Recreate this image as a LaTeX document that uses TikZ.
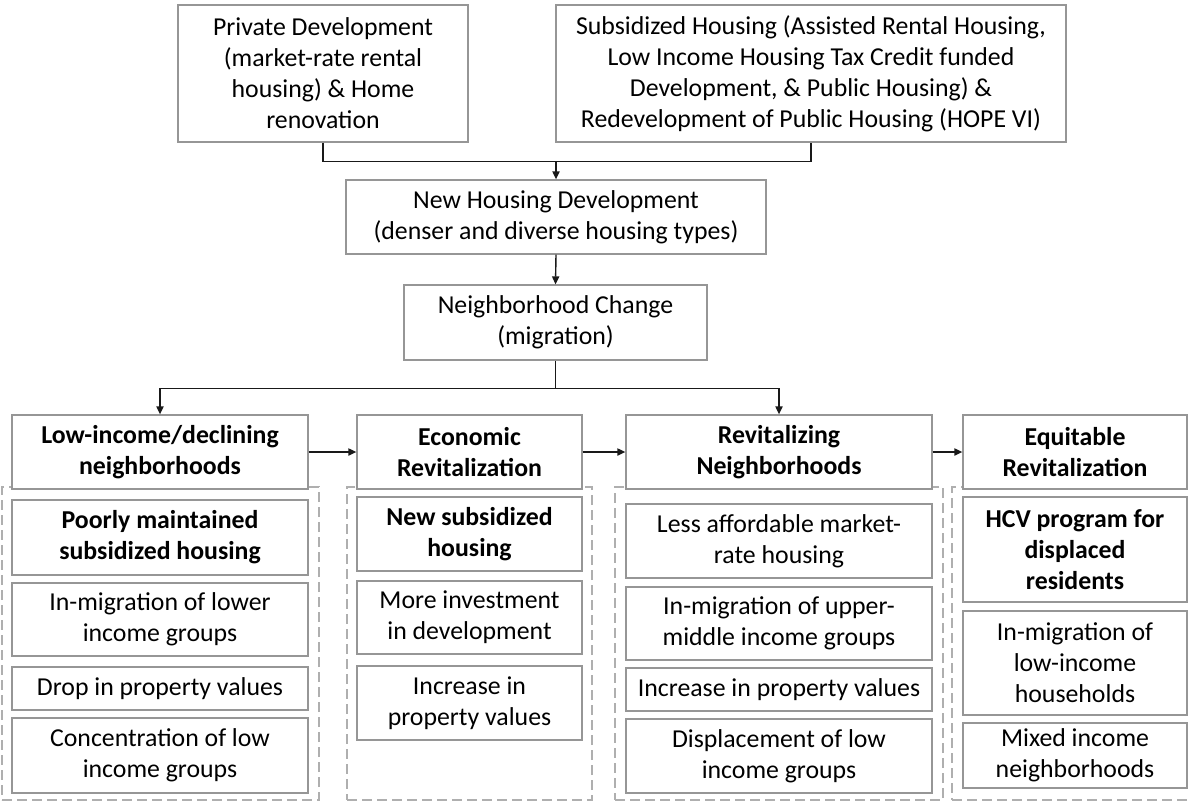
\documentclass[tikz,border=0pt]{standalone}
\usepackage{fontspec}
\setmainfont{Carlito}
\usetikzlibrary{arrows.meta}
\definecolor{boxline}{RGB}{150,150,150}
\definecolor{dashline}{RGB}{175,175,175}
\definecolor{conn}{RGB}{25,25,25}
\tikzset{
  textbox/.style={draw=boxline, line width=0.65pt, fill=white, inner sep=0pt, align=center,
    font=\fontsize{12.9}{15.5}\selectfont},
  headbox/.style={textbox, font=\fontsize{12.9}{15.5}\selectfont\bfseries},
  boldbox/.style={headbox},
  dashbox/.style={draw=dashline, line width=1pt, dash pattern=on 5pt off 2.5pt, inner sep=0pt},
  link/.style={draw=conn, line width=0.7pt},
  arr/.style={link, -{Triangle[length=4pt,width=3.6pt]}}
}
\newcommand\bx[7][]{\node[textbox,#1,minimum width={(#5-#3)*0.5pt},minimum height={(#6-#4)*0.5pt}] (#2) at ({(#3+#5)/2},{(#4+#6)/2}) {#7};}
\begin{document}
\begin{tikzpicture}[x=0.5pt,y=-0.5pt]
\useasboundingbox (0,0) rectangle (1188,803);
\clip (0,0) rectangle (1188,803);
% top
\bx{P}{178}{5}{468}{142}{Private Development\\(market-rate rental\\housing) \& Home\\renovation}
\bx{S}{556}{5}{1066}{142}{Subsidized Housing (Assisted Rental Housing,\\Low Income Housing Tax Credit funded\\Development, \& Public Housing) \&\\Redevelopment of Public Housing (HOPE VI)}
\bx{NH}{346}{180}{766}{254}{New Housing Development\\(denser and diverse housing types)}
\bx{NC}{404}{285}{707}{360}{Neighborhood Change\\(migration)}
% dashed columns
\bx[dashbox,fill=none,draw=dashline]{D1}{2}{487}{319}{800}{}
\bx[dashbox,fill=none,draw=dashline]{D2}{347}{487}{592}{800}{}
\bx[dashbox,fill=none,draw=dashline]{D3}{615}{487}{943}{800}{}
\bx[dashbox,fill=none,draw=dashline]{D4}{952}{487}{1210}{800}{}
% headers
\bx[headbox]{H1}{12}{415}{308}{489}{Low-income/declining\\neighborhoods}
\bx[headbox]{H2}{357}{415}{582}{489}{Economic\\Revitalization}
\bx[headbox]{H3}{626}{415}{932}{489}{Revitalizing\\Neighborhoods}
\bx[headbox]{H4}{963}{415}{1187}{489}{Equitable\\Revitalization}
% column 1
\bx[boldbox]{A1}{12}{500}{308}{575}{Poorly maintained\\subsidized housing}
\bx{A2}{12}{583}{308}{656}{In-migration of lower\\income groups}
\bx{A3}{12}{667}{308}{710}{Drop in property values}
\bx{A4}{12}{718}{308}{793}{Concentration of low\\income groups}
% column 2
\bx[boldbox]{B1}{357}{497}{582}{571}{New subsidized\\housing}
\bx{B2}{357}{581}{582}{654}{More investment\\in development}
\bx{B3}{357}{666}{582}{740}{Increase in\\property values}
% column 3
\bx{C1}{626}{504}{932}{578}{Less affordable market-\\rate housing}
\bx{C2}{626}{587}{932}{660}{In-migration of upper-\\middle income groups}
\bx{C3}{626}{668}{932}{711}{Increase in property values}
\bx{C4}{626}{719}{932}{793}{Displacement of low\\income groups}
% column 4
\bx[boldbox]{E1}{963}{497}{1187}{602}{HCV program for\\displaced\\residents}
\bx{E2}{963}{611}{1187}{715}{In-migration of\\low-income\\households}
\bx{E3}{963}{723}{1187}{788}{Mixed income\\neighborhoods}
% connectors
\draw[link] (P.south) -- ++(0,19) -| (S.south);
\coordinate (j1) at (NH.north |- 0,161);
\draw[arr] (j1) -- (NH.north);
\draw[arr] (NH.south) -- (NC.north);
\draw[link] (NC.south) -- ++(0,28) coordinate (j2);
\draw[arr] (j2) -| (H1.north);
\draw[arr] (j2) -| (H3.north);
\draw[arr] (H1.east) -- (H2.west);
\draw[arr] (H2.east) -- (H3.west);
\draw[arr] (H3.east) -- (H4.west);
\end{tikzpicture}
\end{document}
